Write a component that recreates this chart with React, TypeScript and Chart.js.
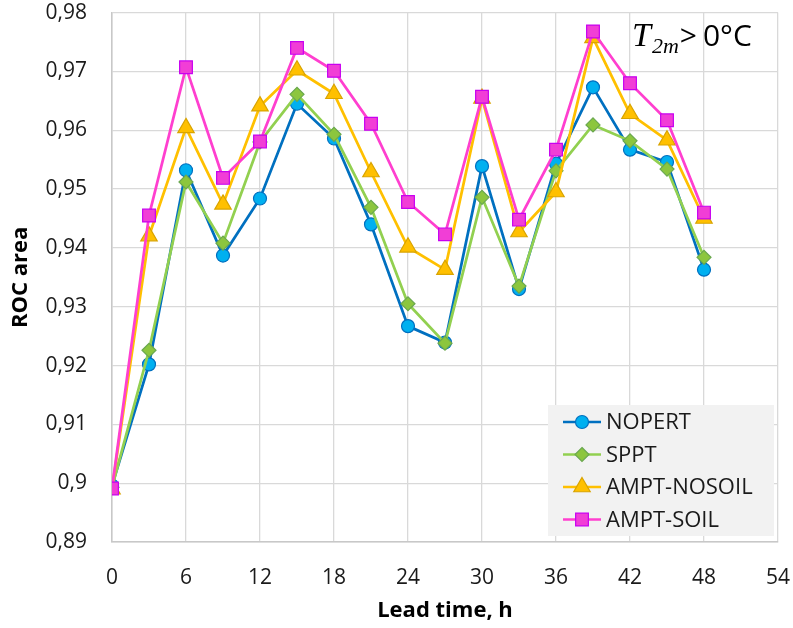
import React, { useEffect, useRef } from 'react';
import { Chart, registerables } from 'chart.js';

Chart.register(...registerables);

const leadTimes = [0, 3, 6, 9, 12, 15, 18, 21, 24, 27, 30, 33, 36, 39, 42, 45, 48];
const nopert = [0.8996, 0.9202, 0.9532, 0.9387, 0.9484, 0.9645, 0.9586, 0.944, 0.9267, 0.9239, 0.9539, 0.933, 0.9543, 0.9673, 0.9567, 0.9546, 0.9363];
const sppt = [0.8993, 0.9226, 0.9512, 0.9408, 0.958, 0.9661, 0.9593, 0.9469, 0.9305, 0.9238, 0.9486, 0.9335, 0.9531, 0.9609, 0.9582, 0.9534, 0.9384];
const amptNoSoil = [0.899, 0.942, 0.9604, 0.9474, 0.9641, 0.9702, 0.9662, 0.9529, 0.9401, 0.9363, 0.9654, 0.9427, 0.9495, 0.9757, 0.9628, 0.9583, 0.945];
const amptSoil = [0.8991, 0.9455, 0.9707, 0.9519, 0.9581, 0.974, 0.9701, 0.9611, 0.9478, 0.9423, 0.9657, 0.9448, 0.9567, 0.9768, 0.968, 0.9617, 0.946];

const seriesNames = ['NOPERT', 'SPPT', 'AMPT-NOSOIL', 'AMPT-SOIL'];
const xTitle = 'Lead time, h';
const yTitle = 'ROC area';

const FONT = "'Open Sans', sans-serif";

const styles = [
  { line: '#0070C0', fill: '#00B0F0', border: '#0070C0', shape: 'circle', r: 6.5 },
  { line: '#92D050', fill: '#8CC63E', border: '#6AA84F', shape: 'rectRot', r: 7 },
  { line: '#FFC000', fill: '#FFC000', border: '#D9A400', shape: 'triangle', r: 9.5 },
  { line: '#FF3FCF', fill: '#F13ED6', border: '#C800F0', shape: 'rect', r: 9 },
];

function drawMarker(ctx: CanvasRenderingContext2D, shape: string, x: number, y: number, r: number) {
  ctx.beginPath();
  if (shape === 'circle') {
    ctx.arc(x, y, r, 0, Math.PI * 2);
  } else if (shape === 'rect') {
    const s = Math.SQRT1_2 * r;
    ctx.rect(x - s, y - s, 2 * s, 2 * s);
  } else if (shape === 'rectRot') {
    ctx.moveTo(x, y - r);
    ctx.lineTo(x + r, y);
    ctx.lineTo(x, y + r);
    ctx.lineTo(x - r, y);
  } else if (shape === 'triangle') {
    let a = 0;
    ctx.moveTo(x + Math.sin(a) * r, y - Math.cos(a) * r);
    a += (2 * Math.PI) / 3;
    ctx.lineTo(x + Math.sin(a) * r, y - Math.cos(a) * r);
    a += (2 * Math.PI) / 3;
    ctx.lineTo(x + Math.sin(a) * r, y - Math.cos(a) * r);
  }
  ctx.closePath();
  ctx.fill();
  ctx.stroke();
}

const legendPlugin = {
  id: 'insideLegend',
  afterDraw(chart: any) {
    const { ctx, chartArea } = chart;
    const w = 226;
    const h = 131;
    const x0 = chartArea.right - 4 - w;
    const y0 = chartArea.bottom - 6 - h;
    ctx.save();
    ctx.fillStyle = '#F2F2F2';
    ctx.fillRect(x0, y0, w, h);
    ctx.font = `22px ${FONT}`;
    ctx.textBaseline = 'middle';
    ctx.textAlign = 'left';
    seriesNames.forEach((name, i) => {
      const st = styles[i];
      const cy = y0 + 17 + i * 32.5;
      ctx.strokeStyle = st.line;
      ctx.lineWidth = 2.5;
      ctx.beginPath();
      ctx.moveTo(x0 + 15, cy);
      ctx.lineTo(x0 + 53, cy);
      ctx.stroke();
      ctx.fillStyle = st.fill;
      ctx.strokeStyle = st.border;
      ctx.lineWidth = 1.2;
      drawMarker(ctx, st.shape, x0 + 34, cy, st.r);
      ctx.fillStyle = '#1a1a1a';
      ctx.fillText(name, x0 + 58, cy + 1);
    });
    ctx.restore();
  },
};

const labelPlugin = {
  id: 'condLabel',
  afterDraw(chart: any) {
    const { ctx, chartArea } = chart;
    const x = chartArea.right - 146;
    const base = chartArea.top + 33;
    ctx.save();
    ctx.fillStyle = '#000';
    ctx.textBaseline = 'alphabetic';
    ctx.textAlign = 'left';
    ctx.font = `italic 34px 'Liberation Serif', serif`;
    ctx.fillText('T', x, base);
    let cx = x + ctx.measureText('T').width + 1;
    ctx.font = `italic 22px 'Liberation Serif', serif`;
    ctx.fillText('2m', cx, base + 7);
    cx += ctx.measureText('2m').width + 1;
    ctx.font = `30px ${FONT}`;
    ctx.fillText('>', cx, base);
    cx += ctx.measureText('>').width + 6;
    ctx.fillText('0°C', cx, base);
    ctx.restore();
  },
};

export default function App() {
  const ref = useRef<HTMLCanvasElement | null>(null);
  useEffect(() => {
    if (!ref.current) return;
    const arrays = [nopert, sppt, amptNoSoil, amptSoil];
    const chart = new Chart(ref.current, {
      type: 'line',
      data: {
        datasets: arrays.map((arr, i) => ({
          label: seriesNames[i],
          data: leadTimes.map((t, j) => ({ x: t, y: arr[j] })),
          borderColor: styles[i].line,
          backgroundColor: styles[i].fill,
          borderWidth: 2.75,
          pointStyle: styles[i].shape as any,
          pointRadius: styles[i].r,
          pointBackgroundColor: styles[i].fill,
          pointBorderColor: styles[i].border,
          pointBorderWidth: 1.2,
          tension: 0,
          order: 4 - i,
        })),
      },
      options: {
        animation: false,
        responsive: false,
        layout: { padding: { left: 0, right: 15, top: 0, bottom: 0 } },
        plugins: { legend: { display: false }, tooltip: { enabled: false } },
        scales: {
          x: {
            type: 'linear',
            min: 0,
            max: 54,
            ticks: { stepSize: 6, padding: 0, color: '#1a1a1a', font: { family: FONT, size: 21 } },
            grid: { color: '#D9D9D9', lineWidth: 1.3, drawTicks: true, tickLength: 23, tickColor: 'rgba(0,0,0,0)' },
            border: { color: '#C8C8C8', width: 1.5 },
            title: { display: true, text: xTitle, color: '#000', font: { family: FONT, size: 22, weight: 'bold' }, padding: { top: 0, bottom: 4 } },
            afterFit: (s: any) => { s.height = 86; },
          },
          y: {
            type: 'linear',
            min: 0.89,
            max: 0.98,
            ticks: {
              stepSize: 0.01,
              padding: 0,
              color: '#1a1a1a',
              font: { family: FONT, size: 21 },
              callback: (v: any) => String(Number(Number(v).toFixed(2))).replace('.', ','),
            },
            grid: { color: '#D9D9D9', lineWidth: 1.3, drawTicks: true, tickLength: 25, tickColor: 'rgba(0,0,0,0)' },
            border: { color: '#C8C8C8', width: 1.5 },
            title: { display: true, text: yTitle, color: '#000', font: { family: FONT, size: 22, weight: 'bold' }, padding: { top: 8, bottom: 0 } },
            afterFit: (s: any) => { s.width = 112; },
          },
        },
      },
      plugins: [legendPlugin, labelPlugin],
    });
    return () => chart.destroy();
  }, []);
  return (
    <div style={{ position: 'absolute', left: 0, top: 0, width: 793, height: 628, background: '#fff' }}>
      <canvas ref={ref} width={793} height={628} />
    </div>
  );
}
